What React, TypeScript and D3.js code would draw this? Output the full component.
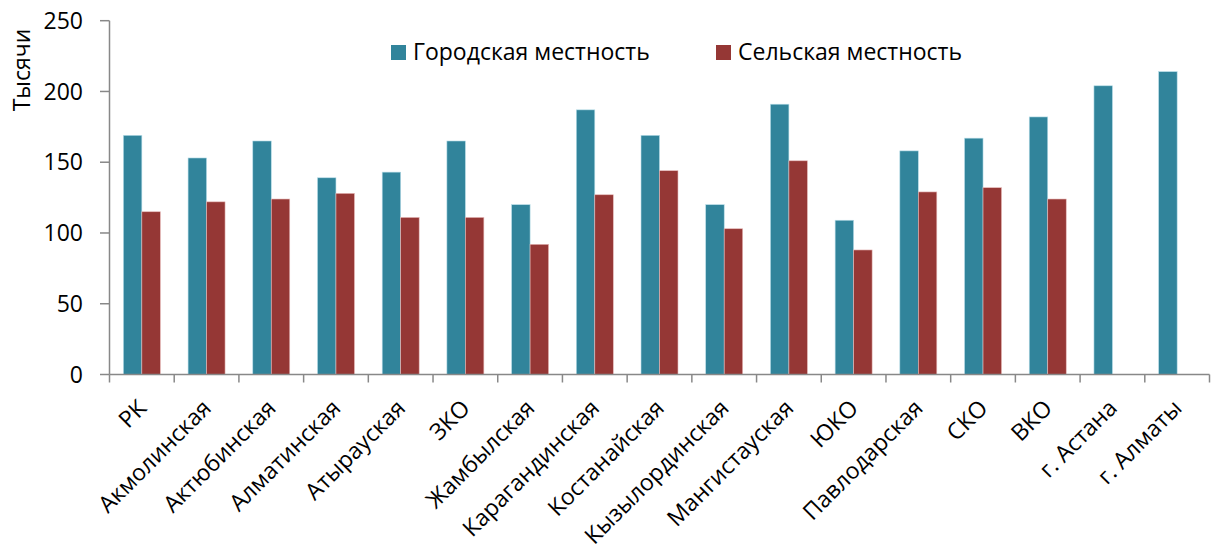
import React from 'react';
import * as d3 from 'd3';

const regions = [
  'РК', 'Акмолинская', 'Актюбинская', 'Алматинская', 'Атырауская', 'ЗКО',
  'Жамбылская', 'Карагандинская', 'Костанайская', 'Кызылординская',
  'Мангистауская', 'ЮКО', 'Павлодарская', 'СКО', 'ВКО', 'г. Астана', 'г. Алматы',
];
const urban = [169, 153, 165, 139, 143, 165, 120, 187, 169, 120, 191, 109, 158, 167, 182, 204, 214];
const rural: (number | null)[] = [115, 122, 124, 128, 111, 111, 92, 127, 144, 103, 151, 88, 129, 132, 124, null, null];
const yTicks = [0, 50, 100, 150, 200, 250];
const seriesNames = ['Городская местность', 'Сельская местность'];

const W = 1211;
const H = 549;
const FONT = '"Open Sans", "DejaVu Sans", sans-serif';
const FS = 23;
const BLUE = '#31849b';
const RED = '#953735';
const AXIS = '#888888';

export default function App() {
  const x = d3.scaleBand<string>().domain(regions).range([109.5, 1209.5]).padding(0);
  const y = d3.scaleLinear().domain([0, 250]).range([374.5, 20.7]);
  const bw = x.bandwidth() / 3.5;
  const y0 = y(0);

  return (
    <div>
      <style>{'body{margin:0}'}</style>
      <svg width={W} height={H} style={{ display: 'block', fontFamily: FONT }}>
        <rect width={W} height={H} fill="#fff" />

        {/* bars */}
        {regions.map((r, i) => {
          const c = (x(r) ?? 0) + x.bandwidth() / 2;
          const rv = rural[i];
          return (
            <g key={r}>
              <rect x={c - bw} y={y(urban[i])} width={bw} height={y0 - y(urban[i])}
                fill={BLUE} stroke="#b7dde8" strokeWidth={0.6} />
              {rv != null && (
                <rect x={c} y={y(rv)} width={bw} height={y0 - y(rv)}
                  fill={RED} stroke="#e6b9b8" strokeWidth={0.6} />
              )}
            </g>
          );
        })}

        {/* y axis */}
        <line x1={109.5} x2={109.5} y1={y(250)} y2={y0} stroke={AXIS} strokeWidth={1.5} />
        {yTicks.map((t) => (
          <g key={t}>
            <line x1={100} x2={109.5} y1={y(t)} y2={y(t)} stroke={AXIS} strokeWidth={1.5} />
            <text x={83} y={y(t)} dy="0.35em" textAnchor="end" fontSize={FS} fill="#000">{t}</text>
          </g>
        ))}
        <text transform={`translate(30,70) rotate(-90)`} textAnchor="middle" fontSize={FS} fill="#000">Тысячи</text>

        {/* x axis */}
        <line x1={109.5} x2={1209.5} y1={y0} y2={y0} stroke={AXIS} strokeWidth={1.5} />
        {[...regions.map((r) => x(r) ?? 0), 1209.5].map((px, i) => (
          <line key={i} x1={px} x2={px} y1={y0} y2={y0 + 8} stroke={AXIS} strokeWidth={1.5} />
        ))}
        {regions.map((r) => {
          const c = (x(r) ?? 0) + x.bandwidth() / 2;
          return (
            <text key={r} transform={`translate(${c + 6},${y0 + 35}) rotate(-45)`}
              textAnchor="end" fontSize={FS} fill="#000">{r}</text>
          );
        })}

        {/* legend */}
        <rect x={391} y={45} width={15} height={15} fill={BLUE} />
        <text x={413} y={60} fontSize={FS} fill="#000">{seriesNames[0]}</text>
        <rect x={716} y={45} width={15} height={15} fill={RED} />
        <text x={738} y={60} fontSize={FS} fill="#000">{seriesNames[1]}</text>
      </svg>
    </div>
  );
}
